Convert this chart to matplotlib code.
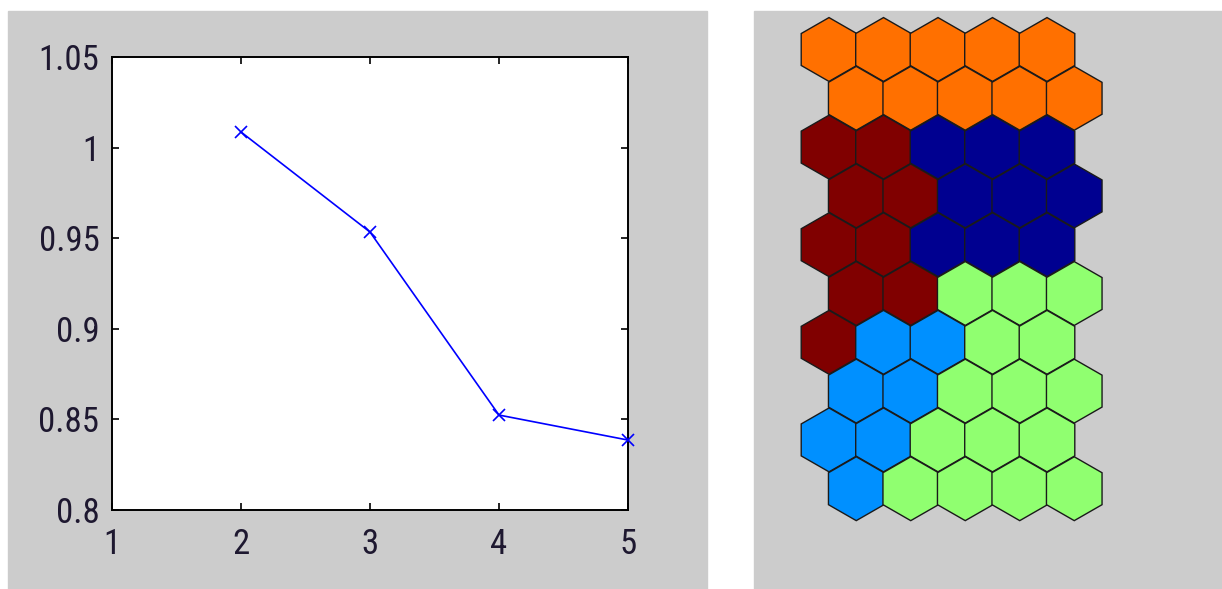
import numpy as np
import matplotlib.pyplot as plt
from matplotlib.patches import Rectangle, RegularPolygon
from matplotlib import font_manager

# curve of the left plot
k_values = [2, 3, 4, 5]
scores = [1.0086, 0.9534, 0.8524, 0.8386]
x_ticks = [1, 2, 3, 4, 5]
y_ticks = [0.8, 0.85, 0.9, 0.95, 1.0, 1.05]
y_tick_labels = ['0.8', '0.85', '0.9', '0.95', '1', '1.05']

# cluster id of each map unit, rows top to bottom, 5 units per row
cluster_rows = [
    [3, 3, 3, 3, 3],
    [3, 3, 3, 3, 3],
    [4, 4, 0, 0, 0],
    [4, 4, 0, 0, 0],
    [4, 4, 0, 0, 0],
    [4, 4, 2, 2, 2],
    [4, 1, 1, 2, 2],
    [1, 1, 2, 2, 2],
    [1, 1, 2, 2, 2],
    [1, 2, 2, 2, 2],
]
cluster_colors = ['#000090', '#0090FF', '#90FF70', '#FF7000', '#800000']

W, H = 1222, 589
fig = plt.figure(figsize=(W / 100, H / 100), dpi=100)
fig.patch.set_facecolor('white')

gray = '#CCCCCC'
fig.patches.append(Rectangle((8 / W, 0), (707 - 8) / W, (H - 11) / H,
                             transform=fig.transFigure, color=gray, zorder=-10))
fig.patches.append(Rectangle((754 / W, 0), (W - 754) / W, (H - 11) / H,
                             transform=fig.transFigure, color=gray, zorder=-10))


def narrow_font():
    # prefer a narrow sans for the tick numbers
    fonts = font_manager.fontManager.ttflist
    for want in ('Liberation Sans Narrow', 'Roboto Condensed', 'Open Sans Condensed'):
        for f in fonts:
            if f.name == want and f.style == 'normal' and f.weight in (400, 'normal'):
                return font_manager.FontProperties(fname=f.fname)
    for f in fonts:
        if f.stretch in ('condensed', 'semi-condensed') and f.style == 'normal' \
                and f.weight in (400, 'normal') and 'Sans' in f.name:
            return font_manager.FontProperties(fname=f.fname)
    return font_manager.FontProperties(family='Liberation Sans')


tick_fp = narrow_font()
tick_fp.set_size(25)

# left: line plot
ax = fig.add_axes([112 / W, (H - 510) / H, (628 - 112) / W, (510 - 57) / H])
ax.plot(k_values, scores, color='#0000FF', lw=1.2, marker='x', ms=8, mew=1.2,
        clip_on=False, zorder=5)
ax.set_xlim(1, 5)
ax.set_ylim(0.8, 1.05)
ax.set_xticks(x_ticks)
ax.set_yticks(y_ticks)
ax.set_yticklabels(y_tick_labels)
ax.tick_params(direction='in', top=True, right=True, length=5, width=1.2,
               colors='black')
ax.tick_params(axis='x', pad=13)
ax.tick_params(axis='y', pad=9)
for lab in ax.get_xticklabels() + ax.get_yticklabels():
    lab.set_fontproperties(tick_fp)
    lab.set_color('#1e1830')
for sp in ax.spines.values():
    sp.set_linewidth(1.4)

# right: hexagonal map
hx = fig.add_axes([754 / W, 0, (W - 754) / W, (H - 11) / H])
hx.set_facecolor(gray)
hx.axis('off')
r = 1 / np.sqrt(3)
dy = 0.9
for i, row in enumerate(cluster_rows):
    for j, c in enumerate(row):
        cx = j + (0.5 if i % 2 else 0.0)
        cy = -i * dy
        hx.add_patch(RegularPolygon((cx, cy), 6, radius=r * 1.02,
                                    orientation=0, facecolor=cluster_colors[c],
                                    edgecolor='#1a1a1a', lw=1.0))
# unit width ~54.5 px, first centre at x=829, top row centre y=49
sx = 54.5
sy = (520.7 - 17.3 - 2 * r * 1.02 * sx) / (9 * dy)
x0 = (829 - 754) / sx
hx.set_xlim(-x0, -x0 + (W - 754) / sx)
top = 49.5 - 11
hx.set_ylim(-(H - 11 - top) / sy, top / sy)

fig.savefig('out.png', dpi=100, facecolor='white')
